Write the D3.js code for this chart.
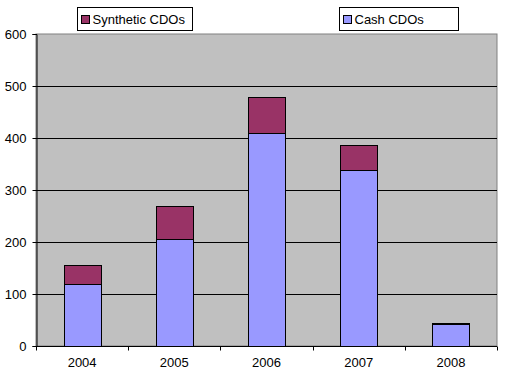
<!DOCTYPE html>
<html>
<head>
<meta charset="utf-8">
<script src="https://cdn.jsdelivr.net/npm/d3@7"></script>
<style>
  body { margin: 0; background: #fff; }
  text { font-family: "Liberation Sans", Arial, sans-serif; }
</style>
</head>
<body>
<div id="chart"></div>
<script>
// data
const years = ["2004", "2005", "2006", "2007", "2008"];
const cash = [119, 205, 410, 339, 43];
const synthetic = [37, 65, 69, 48, 1];
const yTicks = [0, 100, 200, 300, 400, 500, 600];

const width = 506, height = 377;
const margin = {top: 34, right: 9, bottom: 31, left: 36};
const w = width - margin.left - margin.right,
      h = height - margin.top - margin.bottom;

const svg = d3.select("#chart")
  .append("svg")
    .attr("width", width)
    .attr("height", height);

const g = svg.append("g")
  .attr("transform", `translate(${margin.left},${margin.top})`);

const x = d3.scaleBand()
  .domain(years)
  .range([0, w])
  .paddingInner(0.6)
  .paddingOuter(0.3);

const y = d3.scaleLinear()
  .domain([0, 600])
  .range([h, 0]);

// plot background
g.append("rect")
  .attr("width", w)
  .attr("height", h)
  .attr("fill", "#c0c0c0")
  .attr("stroke", "#808080");

// gridlines
g.selectAll(".grid")
  .data(yTicks.filter(d => d > 0 && d < 600))
  .join("line")
    .attr("x1", 0)
    .attr("x2", w)
    .attr("y1", d => Math.round(y(d)) + 0.5)
    .attr("y2", d => Math.round(y(d)) + 0.5)
    .attr("stroke", "#000");

// stacked bars
const rows = years.map((yr, i) => ({year: yr, cash: cash[i], synthetic: synthetic[i]}));
const stack = d3.stack().keys(["cash", "synthetic"])(rows);
const colors = {cash: "#9999ff", synthetic: "#993366"};

g.selectAll(".series")
  .data(stack)
  .join("g")
    .attr("fill", d => colors[d.key])
  .selectAll("rect")
  .data(d => d)
  .join("rect")
    .attr("x", d => Math.round(x(d.data.year)) + 0.5)
    .attr("y", d => Math.round(y(d[1])) + 0.5)
    .attr("width", Math.round(x.bandwidth()))
    .attr("height", d => Math.round(y(d[0])) - Math.round(y(d[1])))
    .attr("stroke", "#000")
    .attr("stroke-width", 1);

// axes
const yAxis = g.append("g")
  .attr("transform", "translate(0.5,0)")
  .call(d3.axisLeft(y).tickValues(yTicks).tickSize(4).tickPadding(6));
yAxis.select(".domain").attr("stroke", "#000");
yAxis.selectAll("text").attr("font-size", 13).attr("fill", "#000");

const xAxis = g.append("g")
  .attr("transform", `translate(0,${h + 0.5})`)
  .call(d3.axisBottom(x).tickSize(0).tickPadding(11));
xAxis.select(".domain").attr("d", `M0,0H${w}`).attr("stroke", "#000");
xAxis.selectAll("text").attr("font-size", 13).attr("fill", "#000");

// category boundary ticks
const bandStep = w / years.length;
xAxis.selectAll(".sep")
  .data(d3.range(years.length + 1))
  .join("line")
    .attr("x1", d => Math.round(d * bandStep) + 0.5)
    .attr("x2", d => Math.round(d * bandStep) + 0.5)
    .attr("y1", 0)
    .attr("y2", 4)
    .attr("stroke", "#000");

// legends
const legends = [
  {label: "Synthetic CDOs", key: "synthetic", x: 77, w: 115},
  {label: "Cash CDOs", key: "cash", x: 339, w: 119}
];
const lg = svg.selectAll(".legend")
  .data(legends)
  .join("g")
    .attr("transform", d => `translate(${d.x + 0.5},7.5)`);
lg.append("rect")
  .attr("width", d => d.w)
  .attr("height", 23)
  .attr("fill", "#fff")
  .attr("stroke", "#000");
lg.append("rect")
  .attr("x", 4)
  .attr("y", 8)
  .attr("width", 8)
  .attr("height", 8)
  .attr("fill", d => colors[d.key])
  .attr("stroke", "#000");
lg.append("text")
  .attr("x", 15)
  .attr("y", 16.5)
  .attr("font-size", 13)
  .text(d => d.label);
</script>
</body>
</html>
